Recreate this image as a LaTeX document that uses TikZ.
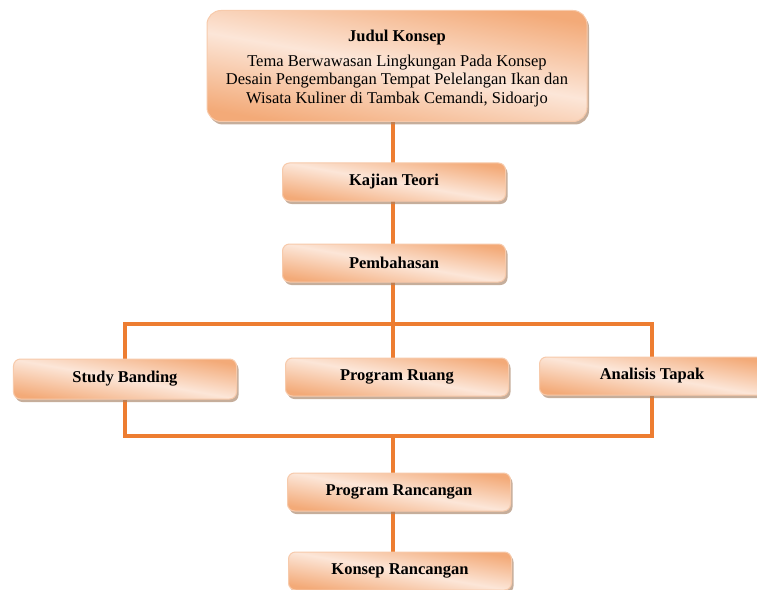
\documentclass[tikz,border=0pt]{standalone}
\usepackage{fontspec}
\setmainfont{Liberation Serif}
\usepackage{xcolor}
\usetikzlibrary{positioning,shadows,backgrounds}

\definecolor{lijn}{HTML}{ED7D31}
\definecolor{kotakgelap}{HTML}{F3AA78}
\definecolor{kotakterang}{HTML}{FCE6D8}
\definecolor{tepi}{HTML}{F7CAAB}
\definecolor{bayang}{HTML}{A88266}

\begin{document}
\begin{tikzpicture}[x=1bp,y=-1bp,
  font=\fontsize{16bp}{18.5bp}\selectfont,
  kotak/.style={draw=tepi,line width=1bp,rounded corners=7bp,
    top color=kotakgelap,bottom color=kotakgelap,middle color=kotakterang,
    shading angle=-10,
    drop shadow={shadow xshift=2bp,shadow yshift=-3bp,fill=bayang,opacity=0.65},
    minimum width=223bp,minimum height=38bp,inner sep=0pt,
    font=\fontsize{16.5bp}{18.5bp}\selectfont\bfseries},
  link/.style={draw=lijn,line width=4bp}]

  \useasboundingbox (0,0) rectangle (757,590);
  \clip (0,0) rectangle (757,590);

  % title box
  \node[kotak,minimum width=380bp,minimum height=111bp,rounded corners=14bp,
        align=center,font=\fontsize{16.5bp}{18.5bp}\selectfont] (judul) at (397,66)
    {\rule{0pt}{17bp}\textbf{Judul Konsep}\\[6bp]
     Tema Berwawasan Lingkungan Pada Konsep\\
     Desain Pengembangan Tempat Pelelangan Ikan dan\\
     Wisata Kuliner di Tambak Cemandi, Sidoarjo};

  % main column
  \node[kotak] (kajian) at (394,182) {Kajian Teori};
  \node[kotak] (bahas) at (394,263) {Pembahasan};

  % three analyses
  \node[kotak,minimum height=40bp] (banding) at (125,379) {Study Banding};
  \node[kotak] (ruang) at (397,377) {Program Ruang};
  \node[kotak,minimum width=225bp] (tapak) at (652,376) {Analisis Tapak};

  \node[kotak] (rancangan) at (399,492) {Program Rancangan};
  \node[kotak] (konsep) at (400,571) {Konsep Rancangan};

  \coordinate (atas) at (393,324);
  \coordinate (bawah) at (393,436);

  % connectors
  \begin{scope}[on background layer]
    \draw[link] (atas |- judul) -- (atas |- ruang);
    \draw[link] (banding) |- (atas) -| (tapak);
    \draw[link] (banding) |- (bawah) -| (tapak);
    \draw[link] (bawah) -- (bawah |- konsep);
  \end{scope}

\end{tikzpicture}
\end{document}
